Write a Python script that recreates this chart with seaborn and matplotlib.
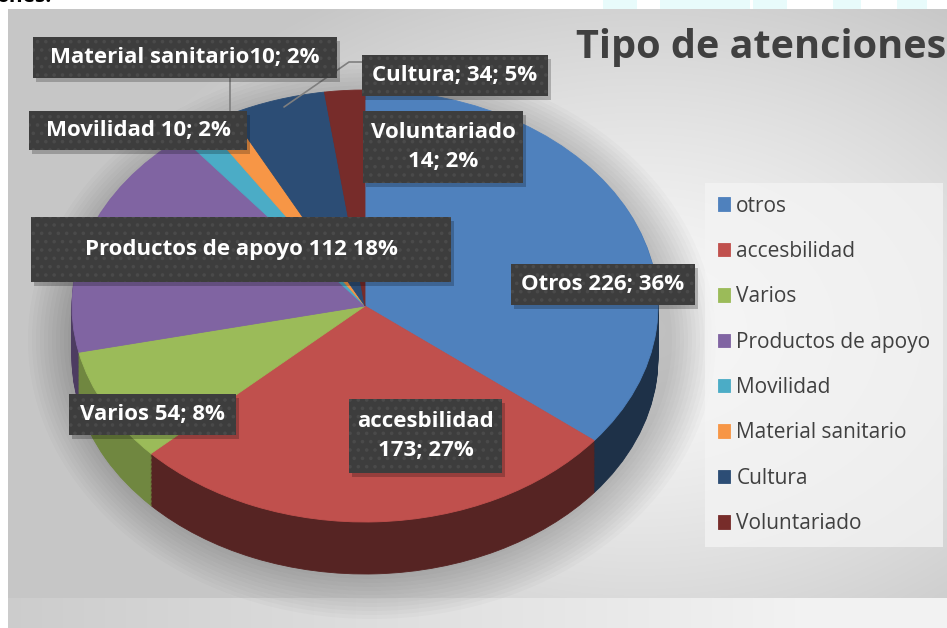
import numpy as np
import seaborn as sns
import matplotlib.pyplot as plt
from matplotlib.patches import Rectangle, Ellipse
from matplotlib.colors import to_rgb

# Data
categories = ["otros", "accesbilidad", "Varios", "Productos de apoyo",
              "Movilidad", "Material sanitario", "Cultura", "Voluntariado"]
counts = [226, 173, 54, 112, 10, 10, 34, 14]
colors = ["#4F81BD", "#C0504D", "#9BBB59", "#8064A2",
          "#4BACC6", "#F79646", "#2C4D75", "#772C2A"]
label_texts = ["Otros 226; 36%", "accesbilidad\n173; 27%", "Varios 54; 8%",
               "Productos de apoyo 112 18%", "Movilidad 10; 2%",
               "Material sanitario10; 2%", "Cultura; 34; 5%",
               "Voluntariado\n14; 2%"]
title = "Tipo de atenciones"

W, H = 947, 628

sns.set_theme(style="white")
plt.rcParams['font.family'] = ['Open Sans', 'DejaVu Sans']

fig = plt.figure(figsize=(W / 100, H / 100), dpi=100)

# background axes in pixel coordinates
bg = fig.add_axes([0, 0, 1, 1], zorder=0)
bg.set_xlim(0, W)
bg.set_ylim(H, 0)
bg.axis('off')

yy, xx = np.mgrid[0:H, 0:W]
d = np.sqrt(((xx - 640) / 560.0) ** 2 + ((yy - 330) / 390.0) ** 2)
grad = 0.98 - 0.20 * np.clip(d, 0, 1) ** 1.3
band = yy > 597
grad[band] = (0.80 + 0.15 * np.clip(xx[band] / 800.0, 0, 1))
grad[:9, :] = 1.0
grad[:, :8] = 1.0
bg.imshow(np.dstack([grad] * 3), extent=(0, W, H, 0), aspect='auto', zorder=0)

# faint watermark at the top
for x0, w in [(603, 34), (660, 90), (753, 34), (833, 28), (897, 30)]:
    bg.add_patch(Rectangle((x0, 0), w, 9, color="#e8fbfb", lw=0, zorder=1))
bg.text(-4, 2, "ones:", fontsize=15, fontweight='bold', color='black',
        va='baseline', ha='left', zorder=2)

# soft shadow under the pie
for k in range(12):
    bg.add_patch(Ellipse((372, 340), 600 + 8 * k, 470 + 8 * k,
                         color='black', alpha=0.018, lw=0, zorder=1))

# pie axes (squashed to an ellipse with an extruded side)
cx, cy, rx, ry, depth = 365, 306, 293, 216, 52
dd = depth / ry
pie_ax = fig.add_axes([(cx - rx) / W, 1 - (cy + ry + depth) / H,
                       2 * rx / W, (2 * ry + depth) / H], zorder=1)
shade = [0.38, 0.45, 0.72, 0.6, 0.6, 0.6, 0.5, 0.5]
dark = [tuple(c * s for c in to_rgb(col)) for col, s in zip(colors, shade)]
n_layers = 40
for k in range(n_layers, 0, -1):
    wedges, _ = pie_ax.pie(counts, colors=dark, startangle=90, counterclock=False,
                           center=(0, -dd * k / n_layers),
                           wedgeprops=dict(linewidth=0.6))
    for w in wedges:
        w.set_edgecolor(w.get_facecolor())
top_wedges, _ = pie_ax.pie(counts, colors=colors, startangle=90, counterclock=False,
                           wedgeprops=dict(linewidth=0.6))
for w in top_wedges:
    w.set_edgecolor(w.get_facecolor())
pie_ax.set_aspect('auto')
pie_ax.set_xlim(-1, 1)
pie_ax.set_ylim(-1 - dd, 1)
pie_ax.axis('off')

# overlay axes for title, labels, legend
ov = fig.add_axes([0, 0, 1, 1], zorder=2)
ov.set_xlim(0, W)
ov.set_ylim(H, 0)
ov.axis('off')
ov.patch.set_alpha(0)

ov.text(576, 58, title, fontsize=28.5, fontweight='bold', color='#404040',
        va='baseline', ha='left')

# leader lines
ov.plot([230, 230], [78, 111], color='#7f7f7f', lw=1.2, zorder=1)
ov.plot([362, 349, 284], [62, 62, 107], color='#7f7f7f', lw=1.2, zorder=1)

# data label boxes (x0, y0, x1, y1) in pixels
boxes = [(511, 264, 695, 305), (349, 399, 502, 473), (69, 394, 236, 435),
         (31, 217, 451, 282), (29, 111, 247, 150), (33, 37, 337, 78),
         (362, 55, 548, 96), (363, 111, 523, 183)]
plt.rcParams['hatch.linewidth'] = 1.4
for (x0, y0, x1, y1), txt in zip(boxes, label_texts):
    ov.add_patch(Rectangle((x0 + 3, y0 + 4), x1 - x0, y1 - y0, color='black',
                           alpha=0.22, lw=0, zorder=2))
    ov.add_patch(Rectangle((x0, y0), x1 - x0, y1 - y0, facecolor='#3d3d3d',
                           edgecolor='#4a4a4a', hatch='..', lw=0, zorder=3))
    ov.text((x0 + x1) / 2, (y0 + y1) / 2, txt, color='white', fontsize=16,
            fontweight='bold', ha='center', va='center', linespacing=1.5, zorder=4)

leg = fig.legend(top_wedges, categories, loc='upper left',
                 bbox_to_anchor=(705 / W, 1 - 183 / H),
                 fontsize=15, frameon=True, fancybox=False,
                 handlelength=0.62, handleheight=0.62, handletextpad=0.28,
                 labelspacing=1.17, borderpad=0.6, borderaxespad=0)
leg.get_frame().set_facecolor('#f4f4f4')
leg.get_frame().set_edgecolor('none')
leg.get_frame().set_alpha(0.75)
for t in leg.get_texts():
    t.set_color('#404040')
leg.set_zorder(5)

fig.savefig('out.png', dpi=100)
